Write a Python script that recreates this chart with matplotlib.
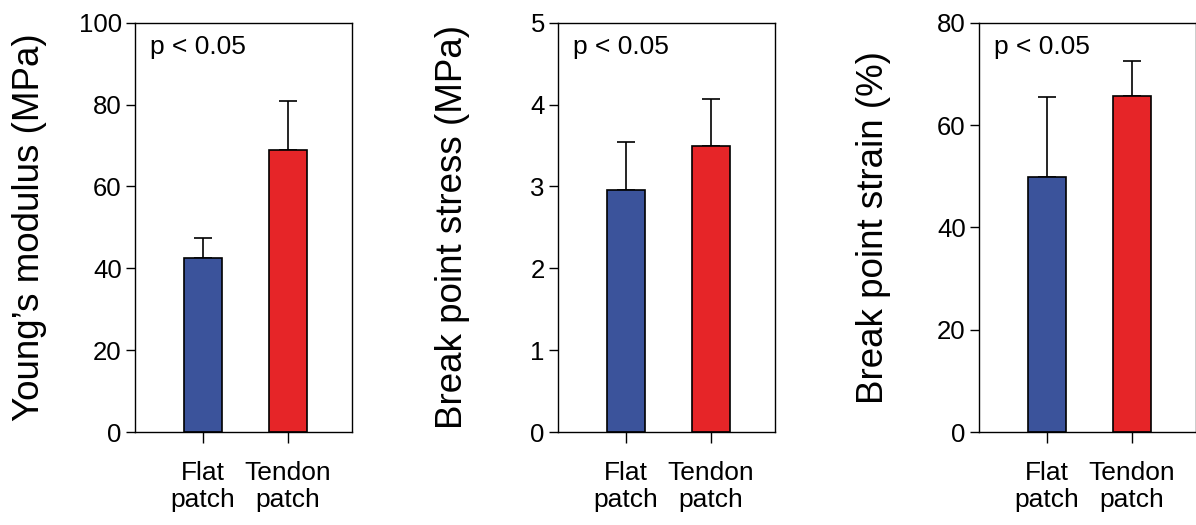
import matplotlib
matplotlib.use("Agg")
import matplotlib.pyplot as plt

plt.rcParams['font.family'] = ['Liberation Sans', 'DejaVu Sans']

groups = ["Flat\npatch", "Tendon\npatch"]
colors = ["#3b539b", "#e62528"]

modulus_mean = [42.6, 68.8]
modulus_err = [4.8, 12.1]

stress_mean = [2.96, 3.49]
stress_err = [0.58, 0.58]

strain_mean = [49.8, 65.7]
strain_err = [15.6, 6.9]

panels = [
    (modulus_mean, modulus_err, "Young\u2019s modulus (MPa)", (0, 100), [0, 20, 40, 60, 80, 100]),
    (stress_mean, stress_err, "Break point stress (MPa)", (0, 5), [0, 1, 2, 3, 4, 5]),
    (strain_mean, strain_err, "Break point strain (%)", (0, 80), [0, 20, 40, 60, 80]),
]

fig = plt.figure(figsize=(11.96, 5.25), dpi=100)
lefts = [135, 558, 979]
W, H = 1196, 525
x = [0, 1]

for left, (mean, err, label, ylim, ticks) in zip(lefts, panels):
    ax = fig.add_axes([left / W, (H - 432) / H, 217 / W, (432 - 22.7) / H])
    ax.bar(x, mean, width=0.445, color=colors, edgecolor="black", linewidth=1.2, zorder=2)
    ax.errorbar(x, mean, yerr=[[0, 0], err], fmt="none", ecolor="black",
                elinewidth=1.2, capsize=6.8, capthick=1.2, zorder=1)
    ax.set_xlim(-0.795, 1.754)
    ax.set_ylim(*ylim)
    ax.set_yticks(ticks)
    ax.set_xticks(x)
    ax.set_xticklabels(groups, linespacing=1.15)
    ax.tick_params(axis="y", direction="out", length=6.5, width=1, labelsize=18.5, pad=3)
    ax.tick_params(axis="x", direction="out", length=8, width=1, labelsize=19, pad=13)
    for s in ax.spines.values():
        s.set_linewidth(1)
    ax.set_ylabel(label, fontsize=26.5)
    ax.yaxis.set_label_coords(-0.405, 0.5)
    ax.text(0.07, 0.94, "p < 0.05", transform=ax.transAxes, fontsize=19,
            ha="left", va="center")

fig.savefig("out.png", dpi=100)
